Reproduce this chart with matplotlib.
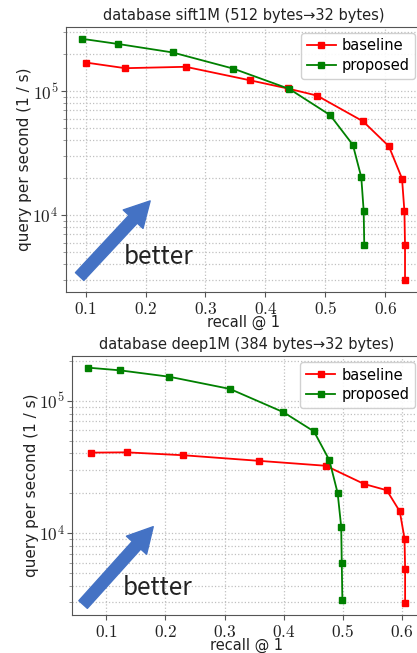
import numpy as np
import matplotlib
matplotlib.use("Agg")
import matplotlib.pyplot as plt
from matplotlib.ticker import FuncFormatter, NullFormatter, LogLocator

plt.rcParams['font.family'] = ['DejaVu Sans']
plt.rcParams['mathtext.fontset'] = 'cm'

# --- data ---
sift_base_recall = [0.100, 0.166, 0.267, 0.375, 0.437, 0.486, 0.563, 0.606, 0.628, 0.632, 0.633, 0.633]
sift_base_qps = [1.70e5, 1.53e5, 1.57e5, 1.22e5, 1.05e5, 9.2e4, 5.7e4, 3.59e4, 1.97e4, 1.07e4, 5.7e3, 3.0e3]
sift_prop_recall = [0.094, 0.154, 0.245, 0.346, 0.440, 0.508, 0.546, 0.560, 0.564, 0.565]
sift_prop_qps = [2.64e5, 2.40e5, 2.05e5, 1.52e5, 1.04e5, 6.4e4, 3.68e4, 2.02e4, 1.08e4, 5.7e3]

deep_base_recall = [0.0735, 0.135, 0.230, 0.358, 0.471, 0.536, 0.574, 0.596, 0.604, 0.605, 0.605]
deep_base_qps = [4.06e4, 4.08e4, 3.88e4, 3.52e4, 3.23e4, 2.35e4, 2.11e4, 1.46e4, 9.1e3, 5.4e3, 2.95e3]
deep_prop_recall = [0.0696, 0.123, 0.2066, 0.309, 0.3995, 0.451, 0.477, 0.491, 0.497, 0.498, 0.499]
deep_prop_qps = [1.78e5, 1.70e5, 1.52e5, 1.23e5, 8.2e4, 5.87e4, 3.56e4, 2.01e4, 1.12e4, 5.9e3, 3.12e3]

titles = ["database sift1M (512 bytes\u219232 bytes)",
          "database deep1M (384 bytes\u219232 bytes)"]

# arrow (tail, head) and "better" text anchor in data coords
arrow_tail = [(0.090, 3.19e3), (0.061, 2.89e3)]
arrow_head = [(0.2077, 1.30e4), (0.1795, 1.12e4)]
better_pos = [(0.163, 4.6e3), (0.1276, 3.86e3)]

fig = plt.figure(figsize=(4.17, 6.53), dpi=100)
ax1 = fig.add_axes([0.158, 0.553, 0.852, 0.406])
ax2 = fig.add_axes([0.1735, 0.058, 0.836, 0.397])

series = [
    (ax1, sift_base_recall, sift_base_qps, sift_prop_recall, sift_prop_qps),
    (ax2, deep_base_recall, deep_base_qps, deep_prop_recall, deep_prop_qps),
]

for i, (ax, br, bq, pr, pq) in enumerate(series):
    ax.plot(br, bq, color='#ff0000', marker='s', markersize=4, linewidth=1.3, label='baseline')
    ax.plot(pr, pq, color='#008000', marker='s', markersize=4, linewidth=1.3, label='proposed')
    ax.set_yscale('log')
    ax.yaxis.set_major_locator(LogLocator(base=10))
    ax.yaxis.set_minor_locator(LogLocator(base=10, subs=np.arange(2, 10)))
    ax.yaxis.set_major_formatter(FuncFormatter(lambda v, p: r'$10^{%d}$' % round(np.log10(v))))
    ax.yaxis.set_minor_formatter(NullFormatter())
    ax.set_xticks([0.1, 0.2, 0.3, 0.4, 0.5, 0.6])
    ax.xaxis.set_major_formatter(FuncFormatter(lambda v, p: r'$%.1f$' % v))
    ax.grid(True, which='both', linestyle=':', color='#c0c0c0', linewidth=0.9)
    ax.set_axisbelow(True)
    for s in ax.spines.values():
        s.set_color('#555555')
    ax.tick_params(axis='both', which='major', labelsize=12.5, colors='#555555', labelcolor='#222222', pad=2)
    ax.tick_params(axis='y', which='minor', colors='#888888', length=2)
    ax.set_title(titles[i], fontsize=10.5, color='#222222', pad=5)
    ax.set_xlabel('recall @ 1', fontsize=10.5, color='#222222', labelpad=-2)
    ax.set_ylabel('query per second (1 / s)', fontsize=11, color='#222222', labelpad=0)
    ax.legend(loc='upper right', fontsize=10.5, handlelength=2.0, borderpad=0.4,
              labelspacing=0.3, handletextpad=0.4, borderaxespad=0.4, framealpha=0.9)
    ax.annotate('', xy=arrow_head[i], xytext=arrow_tail[i],
                arrowprops=dict(arrowstyle='simple,head_width=1.3,head_length=1.2,tail_width=0.55',
                                color='#4472c4', mutation_scale=15, shrinkA=0, shrinkB=0))
    ax.text(better_pos[i][0], better_pos[i][1], 'better', fontsize=17.5, color='#222222',
            family=['Noto Sans CJK JP', 'DejaVu Sans'], va='center', ha='left')

fig.savefig('out.png', dpi=100)
